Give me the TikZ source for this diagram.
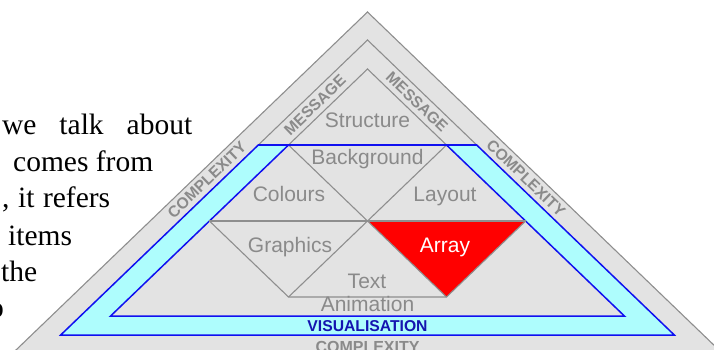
\documentclass[tikz,border=0pt]{standalone}
\usepackage{fontspec}
\setmainfont{Liberation Serif}
\newfontfamily\arialf{Liberation Sans}
\definecolor{bgfill}{HTML}{E3E3E3}
\definecolor{linegray}{HTML}{8E8E8E}
\definecolor{txtgray}{HTML}{8A8A8A}
\definecolor{cyanband}{HTML}{AEFDFD}
\definecolor{blueline}{HTML}{1010F0}
\definecolor{vistext}{HTML}{1414B0}
\tikzset{
  grayline/.style={draw=linegray, line width=1.1pt, line join=miter},
  blueedge/.style={draw=blueline, line width=1.5pt},
  lbl/.style={font=\arialf\fontsize{21}{25}\selectfont, text=txtgray, inner sep=0pt, anchor=base},
  bandlbl/.style={font=\arialf\bfseries\fontsize{15.7}{18}\selectfont, text=txtgray, inner sep=0pt},
  body/.style={font=\fontsize{29.5}{35}\selectfont, inner sep=0pt, anchor=base west},
}
\begin{document}
\begin{tikzpicture}[x=1pt,y=-1pt]
\useasboundingbox (0,0) rectangle (714,350);
\clip (0,0) rectangle (714,350);
% body text (cut at left edge)
\node[body] (l1) at (2,135) {\makebox[190pt][s]{we talk about}};
\node[body] (l2) at (13,171.5) {\makebox[140pt][s]{comes from}};
\node[body] (l3) at (2,207) {\makebox[108pt][s]{, it refers}};
\node[body] (l4) at (8,245) {items};
\node[body] (l5) at (1,281.5) {the};
\node[body, anchor=base east] (l6) at (4,317) {o};
% outer triangle
\filldraw[fill=bgfill, grayline] (367.5,12) -- (750.2,380) -- (-15.2,380) -- cycle;
% message triangles (top parts)
\draw[grayline] (258.3,145) -- (367.5,40) -- (476.7,145);
\draw[grayline] (288.5,145) -- (367.5,69) -- (446.5,145);
% cyan visualisation band
\filldraw[fill=cyanband, blueedge] (258.3,145) -- (476.7,145) -- (674.3,335) -- (60.7,335) -- cycle;
\filldraw[fill=bgfill, blueedge] (288.5,145) -- (446.5,145) -- (624.4,316) -- (110.6,316) -- cycle;
% red array triangle
\fill[red] (367.5,221) -- (525.6,221) -- (446.5,297) -- cycle;
% inner grid
\draw[grayline] (209.4,221) -- (525.6,221);
\draw[grayline] (288.5,145) -- (446.5,297);
\draw[grayline] (446.5,145) -- (288.5,297);
\draw[grayline] (209.4,221) -- (288.5,297) -- (446.5,297) -- (525.6,221);
\draw[blueedge] (258.3,145) -- (476.7,145);
% labels
\node[lbl] (structure) at (367.5,128) {Structure};
\node[lbl] (background) at (367.5,164.3) {Background};
\node[lbl] (colours) at (289,201.5) {Colours};
\node[lbl] (layout) at (445,201.5) {Layout};
\node[lbl] (graphics) at (290,252.5) {Graphics};
\node[lbl, text=white] (array) at (445,252.5) {Array};
\node[lbl] (textl) at (367,288) {Text};
\node[lbl] (animation) at (367.5,311) {Animation};
\node[bandlbl, text=vistext, anchor=base] (vis) at (367.5,331.5) {VISUALISATION};
\node[bandlbl, anchor=base, font=\arialf\bfseries\fontsize{16}{18}\selectfont] (cplxb) at (367.5,352) {COMPLEXITY};
\node[bandlbl, rotate=43.88] (msgl) at (315,105) {MESSAGE};
\node[bandlbl, rotate=-43.88] (msgr) at (417,102) {MESSAGE};
\node[bandlbl, rotate=43.88] (cplxl) at (207,180) {COMPLEXITY};
\node[bandlbl, rotate=-43.88] (cplxr) at (526,178) {COMPLEXITY};
\end{tikzpicture}
\end{document}
